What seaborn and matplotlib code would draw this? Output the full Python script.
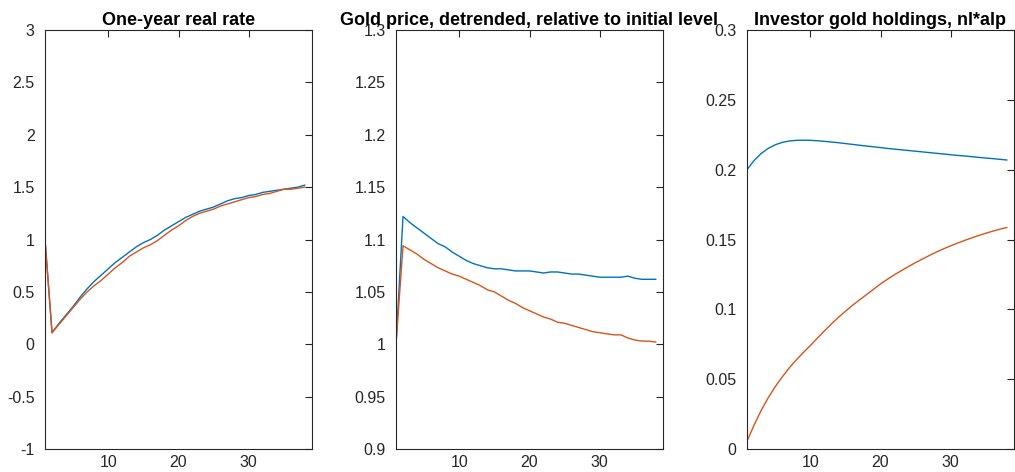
import numpy as np
import pandas as pd
import seaborn as sns
import matplotlib.pyplot as plt
from matplotlib.ticker import FuncFormatter

# periods
periods = list(range(1, 39))

# one-year real rate
rate_blue = [1.00, 0.11, 0.20, 0.28, 0.36, 0.45, 0.53, 0.60, 0.66, 0.72,
             0.78, 0.83, 0.88, 0.93, 0.97, 1.00, 1.04, 1.09, 1.13, 1.17,
             1.21, 1.24, 1.27, 1.29, 1.31, 1.34, 1.37, 1.39, 1.40, 1.42,
             1.43, 1.45, 1.46, 1.47, 1.48, 1.49, 1.50, 1.52]
rate_orange = [1.00, 0.11, 0.19, 0.27, 0.35, 0.43, 0.50, 0.56, 0.61, 0.67,
               0.73, 0.78, 0.84, 0.88, 0.92, 0.95, 0.99, 1.04, 1.09, 1.13,
               1.18, 1.22, 1.25, 1.27, 1.29, 1.32, 1.34, 1.36, 1.38, 1.40,
               1.41, 1.43, 1.44, 1.46, 1.48, 1.48, 1.49, 1.50]

# gold price, detrended
gold_blue = [1.000, 1.122, 1.116, 1.111, 1.106, 1.101, 1.096, 1.093, 1.088, 1.084,
             1.080, 1.077, 1.075, 1.073, 1.072, 1.072, 1.071, 1.070, 1.070, 1.070,
             1.069, 1.068, 1.069, 1.069, 1.068, 1.067, 1.067, 1.066, 1.065, 1.064,
             1.064, 1.064, 1.064, 1.065, 1.063, 1.062, 1.062, 1.062]
gold_orange = [1.000, 1.094, 1.090, 1.086, 1.081, 1.077, 1.073, 1.070, 1.067, 1.065,
               1.062, 1.059, 1.056, 1.052, 1.050, 1.046, 1.042, 1.039, 1.035, 1.032,
               1.029, 1.026, 1.024, 1.021, 1.020, 1.018, 1.016, 1.014, 1.012, 1.011,
               1.010, 1.009, 1.009, 1.006, 1.004, 1.003, 1.003, 1.002]

# investor gold holdings
hold_blue = [0.2000, 0.2065, 0.2115, 0.2152, 0.2178, 0.2195, 0.2205, 0.2210, 0.2211, 0.2210,
             0.2207, 0.2203, 0.2198, 0.2193, 0.2187, 0.2181, 0.2175, 0.2169, 0.2164, 0.2158,
             0.2152, 0.2147, 0.2142, 0.2137, 0.2132, 0.2127, 0.2122, 0.2117, 0.2112, 0.2107,
             0.2102, 0.2098, 0.2093, 0.2088, 0.2083, 0.2079, 0.2074, 0.2069]
hold_orange = [0.0057, 0.0170, 0.0275, 0.0365, 0.0445, 0.0515, 0.0580, 0.0637, 0.0690, 0.0740,
               0.0793, 0.0845, 0.0895, 0.0942, 0.0986, 0.1028, 0.1067, 0.1105, 0.1143, 0.1182,
               0.1216, 0.1248, 0.1278, 0.1307, 0.1335, 0.1361, 0.1387, 0.1411, 0.1434, 0.1455,
               0.1475, 0.1494, 0.1512, 0.1529, 0.1545, 0.1560, 0.1574, 0.1586]

titles = ["One-year real rate",
          "Gold price, detrended, relative to initial level",
          "Investor gold holdings, nl*alp"]
ylims = [(-1, 3), (0.9, 1.3), (0, 0.3)]
ysteps = [0.5, 0.05, 0.05]

sns.set_style("white")
plt.rcParams['font.family'] = ['Liberation Sans', 'DejaVu Sans']
plt.rcParams['font.size'] = 11

blue = "#0072BD"
orange = "#D95319"
grey = "#262626"

fig = plt.figure(figsize=(10.15, 4.72), dpi=100)
lefts = [45, 396, 747]
series = [(rate_blue, rate_orange), (gold_blue, gold_orange), (hold_blue, hold_orange)]

for i in range(3):
    ax = fig.add_axes([lefts[i] / 1015, 23 / 472, 267 / 1015, 419 / 472])
    df = pd.DataFrame({"t": periods, "a": series[i][0], "b": series[i][1]})
    sns.lineplot(data=df, x="t", y="a", ax=ax, color=blue, lw=1.0)
    sns.lineplot(data=df, x="t", y="b", ax=ax, color=orange, lw=1.0)
    ax.set_xlim(1, 39)
    ax.set_ylim(*ylims[i])
    ax.set_xticks([10, 20, 30])
    lo, hi = ylims[i]
    ax.set_yticks(np.round(np.arange(lo, hi + ysteps[i] / 2, ysteps[i]), 3))
    ax.yaxis.set_major_formatter(FuncFormatter(lambda v, p: "%g" % v))
    ax.set_xlabel("")
    ax.set_ylabel("")
    ax.set_title(titles[i], fontweight="bold", fontsize=13, pad=3.5, color="black")
    ax.tick_params(direction="in", top=True, right=True, length=5, width=0.8,
                   colors=grey, labelsize=11.5)
    ax.tick_params(axis="y", pad=7.5)
    ax.tick_params(axis="x", pad=4.5)
    for s in ax.spines.values():
        s.set_visible(True)
        s.set_color(grey)
        s.set_linewidth(0.8)

fig.savefig("out.png", dpi=100)
